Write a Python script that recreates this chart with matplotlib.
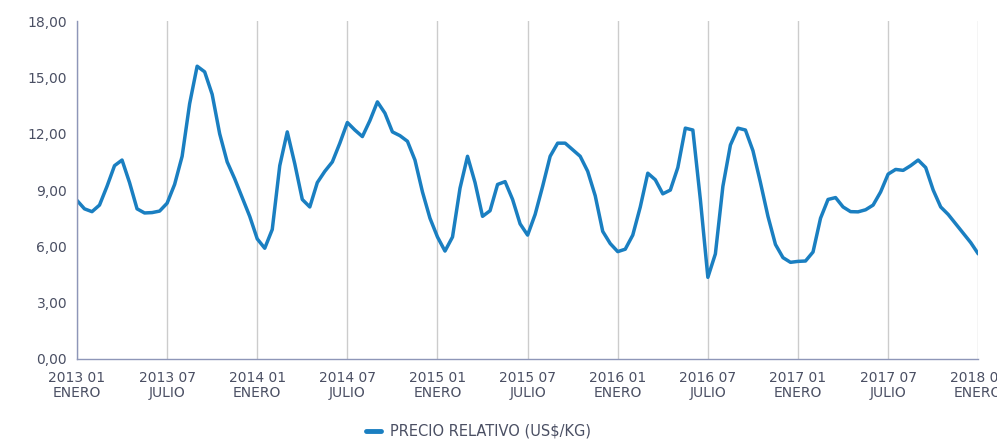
import numpy as np
import matplotlib.pyplot as plt

# monthly index, every half month from 2013-01 to 2018-01
months = np.arange(0, 60.5, 0.5)
precio = [
    8.45, 8.0, 7.85, 8.2, 9.2, 10.3, 10.6, 9.4, 8.0, 7.78,
    7.8, 7.88, 8.3, 9.3, 10.8, 13.6, 15.6, 15.3, 14.1, 12.0,
    10.5, 9.6, 8.6, 7.6, 6.4, 5.9, 6.9, 10.3, 12.1, 10.4,
    8.5, 8.1, 9.4, 10.0, 10.5, 11.5, 12.6, 12.2, 11.85, 12.7,
    13.7, 13.1, 12.1, 11.9, 11.6, 10.6, 8.9, 7.5, 6.5, 5.75,
    6.5, 9.1, 10.8, 9.4, 7.6, 7.9, 9.3, 9.45, 8.5, 7.2,
    6.6, 7.7, 9.2, 10.8, 11.5, 11.5, 11.15, 10.8, 10.0, 8.7,
    6.8, 6.15, 5.72, 5.85, 6.6, 8.1, 9.9, 9.55, 8.8, 9.0,
    10.2, 12.3, 12.2, 8.5, 4.35, 5.6, 9.2, 11.4, 12.3, 12.2,
    11.1, 9.4, 7.6, 6.1, 5.4, 5.15, 5.2, 5.22, 5.7, 7.5,
    8.5, 8.6, 8.1, 7.85, 7.84, 7.95, 8.2, 8.9, 9.85, 10.1,
    10.05, 10.3, 10.6, 10.2, 9.0, 8.1, 7.7, 7.2, 6.7, 6.2,
    5.6,
]
tick_labels = [
    "2013 01\nENERO", "2013 07\nJULIO", "2014 01\nENERO", "2014 07\nJULIO",
    "2015 01\nENERO", "2015 07\nJULIO", "2016 01\nENERO", "2016 07\nJULIO",
    "2017 01\nENERO", "2017 07\nJULIO", "2018 01\nENERO",
]
y_ticks = [0, 3, 6, 9, 12, 15, 18]

fig = plt.figure(figsize=(9.97, 4.41), dpi=100)
ax = fig.add_axes([0.0772, 0.186, 0.904, 0.766])

ax.plot(months, precio, color="#1a7fc1", lw=2.5, solid_capstyle="round",
        solid_joinstyle="round", label="PRECIO RELATIVO (US$/KG)")

ax.set_xlim(0, 60)
ax.set_ylim(0, 18)
ax.set_xticks(np.arange(0, 61, 6))
ax.set_xticklabels(tick_labels, linespacing=1.05)
ax.set_yticks(y_ticks)
ax.set_yticklabels([f"{v:.2f}".replace(".", ",") for v in y_ticks])
ax.tick_params(length=0, colors="#4a4f63", labelsize=10)
ax.tick_params(axis="x", pad=9)
ax.tick_params(axis="y", pad=7)

ax.grid(axis="x", color="#cccccc", lw=1)
for s in ["top", "right"]:
    ax.spines[s].set_visible(False)
for s in ["left", "bottom"]:
    ax.spines[s].set_color("#8e96b8")
    ax.spines[s].set_linewidth(1)

leg = fig.legend(loc="lower center", bbox_to_anchor=(0.48, -0.025), frameon=False,
                 fontsize=10.5, handlelength=1.0, handletextpad=0.6)
for t in leg.get_texts():
    t.set_color("#4a4f63")
for h in leg.get_lines():
    h.set_linewidth(3.5)

fig.savefig("out.png", dpi=100)
